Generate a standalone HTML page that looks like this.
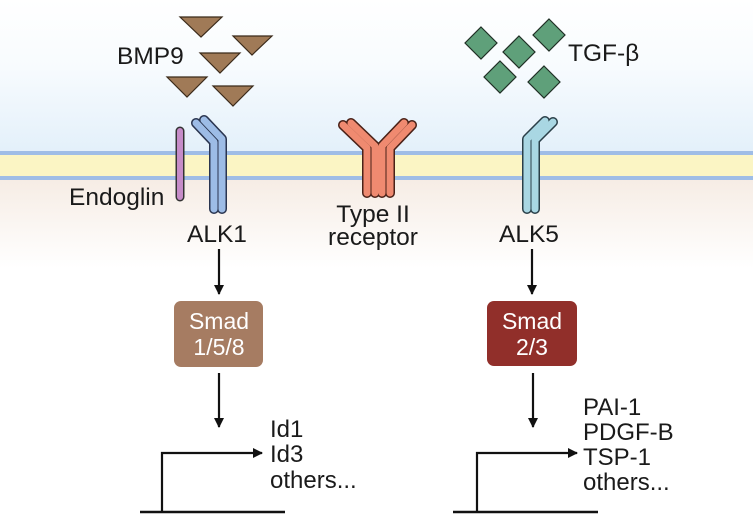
<!DOCTYPE html>
<html><head><meta charset="utf-8"><style>
html,body{margin:0;padding:0;background:#fff;}
svg{display:block;}
text{font-family:"Liberation Sans",Arial,sans-serif;fill:#1a1a1a;}
</style></head><body>
<svg width="753" height="529" viewBox="0 0 753 529" xmlns="http://www.w3.org/2000/svg">
<defs>
<linearGradient id="top" x1="0" y1="0" x2="0" y2="1">
<stop offset="0" stop-color="#ffffff"/><stop offset="0.45" stop-color="#f7fbfe"/><stop offset="1" stop-color="#e3f0fa"/>
</linearGradient>
<linearGradient id="bot" x1="0" y1="0" x2="0" y2="1">
<stop offset="0" stop-color="#f6ece4"/><stop offset="1" stop-color="#ffffff"/>
</linearGradient>
<marker id="ah" markerWidth="10" markerHeight="10" refX="9" refY="5" orient="auto" markerUnits="userSpaceOnUse">
<path d="M0,0 L10,5 L0,10 Z" fill="#111"/>
</marker>
</defs>
<rect x="0" y="0" width="753" height="153" fill="url(#top)"/>
<rect x="0" y="178" width="753" height="90" fill="url(#bot)"/>
<rect x="0" y="155" width="753" height="21" fill="#fbf5c4"/>
<rect x="0" y="151" width="753" height="4" fill="#9fbde6"/>
<rect x="0" y="176" width="753" height="4" fill="#9fbde6"/>

<g fill="#a07a57" stroke="#3a2a1a" stroke-width="1.2">
<polygon points="180,17 222,17 201,37"/>
<polygon points="233,36 272,36 252,55"/>
<polygon points="200,53 240,53 220,73"/>
<polygon points="167,77 207,77 187,97"/>
<polygon points="213,86 253,86 233,106"/>
</g>
<g fill="#5fa07a" stroke="#1f2f25" stroke-width="1.2">
<polygon points="481,27 497,43 481,59 465,43"/>
<polygon points="519,36 535,52 519,68 503,52"/>
<polygon points="549,19 565,35 549,51 533,35"/>
<polygon points="500,61 516,77 500,93 484,77"/>
<polygon points="544,66 560,82 544,98 528,82"/>
</g>

<line x1="180" y1="131" x2="180" y2="197" stroke="#333" stroke-width="9" stroke-linecap="round"/>
<line x1="180" y1="131" x2="180" y2="197" stroke="#c68cc8" stroke-width="6" stroke-linecap="round"/>

<g fill="none" stroke-linecap="round" stroke-linejoin="round">
<path d="M196,123 L214,142 L214,209" stroke="#2a3550" stroke-width="10"/>
<path d="M204,120 L222,139 L222,209" stroke="#2a3550" stroke-width="10"/>
<path d="M196,123 L214,142 L214,209" stroke="#9dbce6" stroke-width="7"/>
<path d="M204,120 L222,139 L222,209" stroke="#9dbce6" stroke-width="7"/>
</g>
<g fill="none" stroke-linecap="round" stroke-linejoin="round">
<path d="M545,121 L527,139 L527,209" stroke="#2a3f48" stroke-width="10"/>
<path d="M553,122 L535,140 L535,209" stroke="#2a3f48" stroke-width="10"/>
<path d="M545,121 L527,139 L527,209" stroke="#a9d7e3" stroke-width="7"/>
<path d="M553,122 L535,140 L535,209" stroke="#a9d7e3" stroke-width="7"/>
</g>
<g fill="none" stroke-linecap="round" stroke-linejoin="round">
<path d="M343,125 L367,148 L367,193" stroke="#4a2218" stroke-width="10"/>
<path d="M351,123 L375,146 L375,193" stroke="#4a2218" stroke-width="10"/>
<path d="M412,125 L390,148 L390,193" stroke="#4a2218" stroke-width="10"/>
<path d="M404,123 L382,146 L382,193" stroke="#4a2218" stroke-width="10"/>
<path d="M343,125 L367,148 L367,193" stroke="#ef8a70" stroke-width="7"/>
<path d="M351,123 L375,146 L375,193" stroke="#ef8a70" stroke-width="7"/>
<path d="M412,125 L390,148 L390,193" stroke="#ef8a70" stroke-width="7"/>
<path d="M404,123 L382,146 L382,193" stroke="#ef8a70" stroke-width="7"/>
</g>

<g font-size="24.5">
<text x="117" y="64">BMP9</text>
<text x="568" y="61">TGF-β</text>
<text x="69" y="205">Endoglin</text>
<text x="187" y="242">ALK1</text>
<text x="373" y="222" text-anchor="middle">Type II</text>
<text x="373" y="245" text-anchor="middle">receptor</text>
<text x="499" y="242">ALK5</text>
</g>

<g stroke="#111" stroke-width="2.2" fill="none">
<line x1="219" y1="249" x2="219" y2="294" marker-end="url(#ah)"/>
<line x1="532" y1="249" x2="532" y2="294" marker-end="url(#ah)"/>
<line x1="219" y1="373" x2="219" y2="427" marker-end="url(#ah)"/>
<line x1="533" y1="373" x2="533" y2="427" marker-end="url(#ah)"/>
<path d="M162,512 L162,453 L262,453" marker-end="url(#ah)"/>
<path d="M477,512 L477,453 L577,453" marker-end="url(#ah)"/>
</g>
<g stroke="#111" stroke-width="2.5">
<line x1="140" y1="512" x2="285" y2="512"/>
<line x1="453" y1="512" x2="598" y2="512"/>
</g>

<rect x="174" y="301" width="89" height="66" rx="7" fill="#a67c62"/>
<rect x="487" y="301" width="90" height="65" rx="7" fill="#912f2a"/>
<g font-size="23" text-anchor="middle">
<text x="219" y="329" style="fill:#fff">Smad</text>
<text x="219" y="355" style="fill:#fff">1/5/8</text>
<text x="532" y="329" style="fill:#fff">Smad</text>
<text x="532" y="355" style="fill:#fff">2/3</text>
</g>

<g font-size="24">
<text x="270" y="437">Id1</text>
<text x="270" y="462">Id3</text>
<text x="270" y="488">others...</text>
<text x="583" y="415">PAI-1</text>
<text x="583" y="440">PDGF-B</text>
<text x="583" y="465">TSP-1</text>
<text x="583" y="490">others...</text>
</g>
</svg>
</body></html>
